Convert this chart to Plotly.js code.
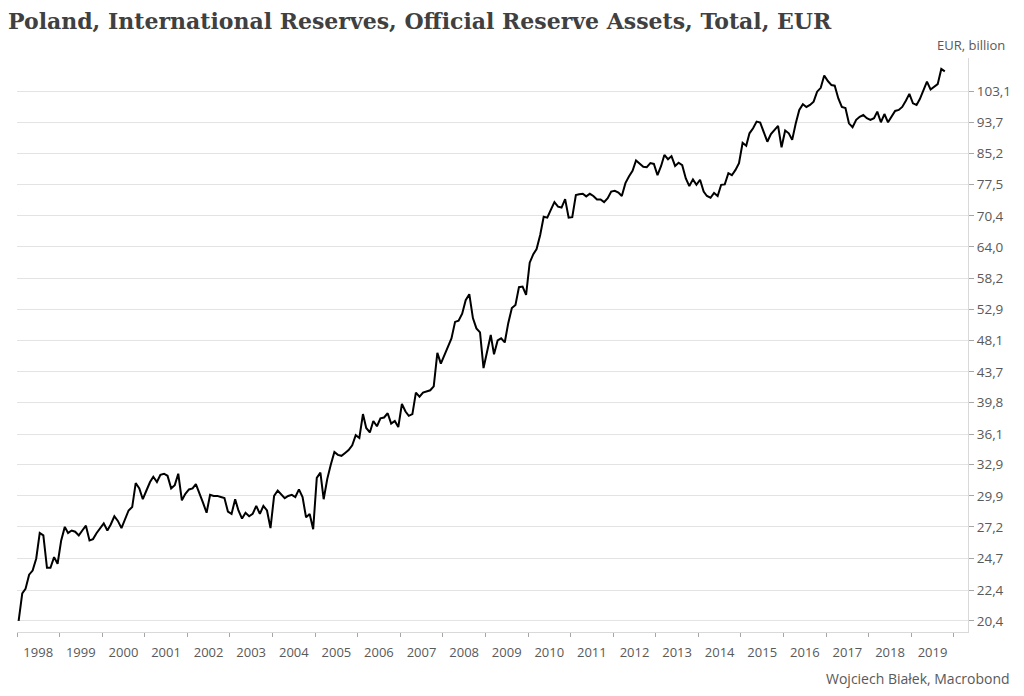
<!DOCTYPE html>
<html>
<head>
<meta charset="utf-8">
<script src="https://cdn.plot.ly/plotly-3.0.1.min.js"></script>
<style>
  html, body { margin: 0; padding: 0; background: #ffffff; }
  #chart { width: 1024px; height: 696px; }
</style>
</head>
<body>
<div id="chart"></div>
<script>
// ---- Data (monthly, EUR billion), starting January 1998 ----
const startYear = 1998;
const startMonth = 1;
const reserves = [
  20.4, 22.2, 22.5, 23.5, 23.8, 24.7, 26.7, 26.5, 24.0, 24.0, 24.8, 24.3,
  26.1, 27.2, 26.7, 26.9, 26.8, 26.5, 26.9, 27.3, 26.1, 26.2, 26.7, 27.1,
  27.5, 26.9, 27.4, 28.1, 27.7, 27.1, 27.8, 28.6, 28.9, 31.1, 30.6, 29.6,
  30.4, 31.2, 31.7, 31.2, 31.9, 32.0, 31.8, 30.6, 30.9, 32.0, 29.5, 30.1,
  30.5, 30.6, 31.0, 30.2, 29.3, 28.4, 30.0, 29.9, 29.9, 29.8, 29.7, 28.5,
  28.3, 29.6, 28.6, 27.9, 28.4, 28.1, 28.3, 29.0, 28.3, 29.0, 28.6, 27.1,
  29.9, 30.4, 30.1, 29.7, 29.9, 30.0, 29.8, 30.5, 29.8, 28.0, 28.3, 27.0,
  31.6, 32.1, 29.6, 31.5, 32.9, 34.2, 33.9, 33.8, 34.1, 34.4, 34.9, 36.0,
  35.7, 38.4, 36.8, 36.3, 37.6, 37.0, 37.9, 38.0, 38.5, 37.3, 37.6, 36.9,
  39.6, 38.7, 38.2, 38.4, 41.0, 40.5, 41.0, 41.2, 41.3, 41.8, 46.3, 44.8,
  46.0, 47.2, 48.4, 50.9, 51.1, 52.2, 54.4, 55.4, 51.5, 49.9, 49.3, 44.2,
  46.6, 48.9, 46.1, 48.1, 48.4, 47.8, 50.7, 53.1, 53.6, 56.6, 56.7, 55.3,
  61.0, 62.6, 63.6, 66.4, 70.2, 70.0, 71.7, 73.4, 72.4, 72.2, 74.1, 70.0,
  70.1, 75.0, 75.2, 75.3, 74.7, 75.3, 74.8, 74.0, 74.0, 73.4, 74.3, 75.8,
  76.0, 75.6, 74.8, 77.8, 79.4, 80.8, 83.4, 82.7, 81.8, 81.7, 82.7, 82.5,
  79.7, 82.0, 84.8, 83.7, 84.5, 82.0, 82.8, 82.2, 78.9, 77.1, 78.7, 77.4,
  78.6, 75.8, 74.8, 74.4, 75.5, 74.8, 77.4, 77.5, 80.2, 79.7, 81.0, 82.7,
  88.0, 87.2, 90.6, 92.0, 93.9, 93.6, 91.1, 88.3, 90.4, 91.4, 92.7, 86.8,
  91.4, 90.6, 88.8, 93.4, 97.3, 99.0, 98.2, 98.8, 99.8, 102.9, 104.1, 108.1,
  106.3, 105.0, 104.8, 100.8, 98.2, 97.9, 93.4, 92.3, 94.4, 95.3, 95.8, 94.9,
  94.4, 94.9, 96.8, 93.7, 96.1, 93.7, 95.5, 97.0, 97.3, 98.2, 100.1, 102.2,
  99.3, 98.8, 100.6, 103.6, 106.1, 103.6, 104.5, 105.3, 110.3, 109.5
];
const yearLabels = ['1998','1999','2000','2001','2002','2003','2004','2005','2006','2007','2008',
                    '2009','2010','2011','2012','2013','2014','2015','2016','2017','2018','2019'];
const yTickValues = [20.4, 22.4, 24.7, 27.2, 29.9, 32.9, 36.1, 39.8, 43.7, 48.1, 52.9, 58.2,
                     64.0, 70.4, 77.5, 85.2, 93.7, 103.1];
const yTickLabels = ['20,4','22,4','24,7','27,2','29,9','32,9','36,1','39,8','43,7','48,1','52,9','58,2',
                     '64,0','70,4','77,5','85,2','93,7','103,1'];

// ---- Build dates (mid-month) ----
const dates = reserves.map((_, i) => {
  const k = i + startMonth - 1;
  const y = startYear + Math.floor(k / 12);
  const m = (k % 12) + 1;
  return y + '-' + String(m).padStart(2, '0') + '-15';
});
const yearLabelPos = yearLabels.map(y => y + '-07-02');

const FONT = "'Open Sans', 'Noto Sans', sans-serif";
const TXT = '#595959';

const trace = {
  x: dates,
  y: reserves,
  type: 'scatter',
  mode: 'lines',
  line: { color: '#000000', width: 2 },
  hoverinfo: 'x+y'
};

const layout = {
  width: 1024,
  height: 696,
  margin: { l: 17, r: 56, t: 58, b: 64 },
  paper_bgcolor: '#ffffff',
  plot_bgcolor: '#ffffff',
  showlegend: false,
  title: {
    text: '<b>Poland, International Reserves, Official Reserve Assets, Total, EUR</b>',
    x: 8 / 1024, xanchor: 'left', xref: 'container',
    y: 1 - 21 / 696, yanchor: 'middle', yref: 'container',
    font: { family: "'DejaVu Serif', 'Liberation Serif', serif", size: 22, color: '#404040' }
  },
  xaxis: {
    type: 'date',
    range: ['1998-01-01', '2020-05-01'],
    tickmode: 'array',
    tickvals: yearLabelPos,
    ticktext: yearLabels,
    ticks: '',
    ticklabelstandoff: 8,
    showgrid: false,
    zeroline: false,
    showline: true,
    linecolor: '#d9d9d9',
    linewidth: 1,
    tickfont: { family: FONT, size: 13, color: TXT },
    minor: {
      tick0: '1998-01-01',
      dtick: 'M12',
      ticks: 'outside',
      ticklen: 4,
      tickwidth: 1,
      tickcolor: '#a6a6a6',
      showgrid: false
    }
  },
  yaxis: {
    type: 'log',
    side: 'right',
    range: [1.2950, 2.0571],
    tickmode: 'array',
    tickvals: yTickValues,
    ticktext: yTickLabels,
    ticks: 'outside',
    ticklen: 5,
    tickcolor: '#a6a6a6',
    showgrid: true,
    gridcolor: '#e3e3e3',
    gridwidth: 1,
    zeroline: false,
    showline: true,
    linecolor: '#d9d9d9',
    linewidth: 1,
    tickfont: { family: FONT, size: 13.5, color: TXT }
  },
  annotations: [
    {
      text: 'EUR, billion',
      xref: 'paper', yref: 'paper',
      x: (1007 - 17) / 951, y: (632 - 45) / 574,
      xanchor: 'right', yanchor: 'middle',
      showarrow: false,
      font: { family: FONT, size: 13, color: TXT }
    },
    {
      text: 'Wojciech Białek, Macrobond',
      xref: 'paper', yref: 'paper',
      x: (1012 - 17) / 951, y: (632 - 678) / 574,
      xanchor: 'right', yanchor: 'middle',
      showarrow: false,
      font: { family: FONT, size: 14, color: TXT }
    }
  ]
};

Plotly.newPlot('chart', [trace], layout, { displayModeBar: false, staticPlot: true });
</script>
</body>
</html>
